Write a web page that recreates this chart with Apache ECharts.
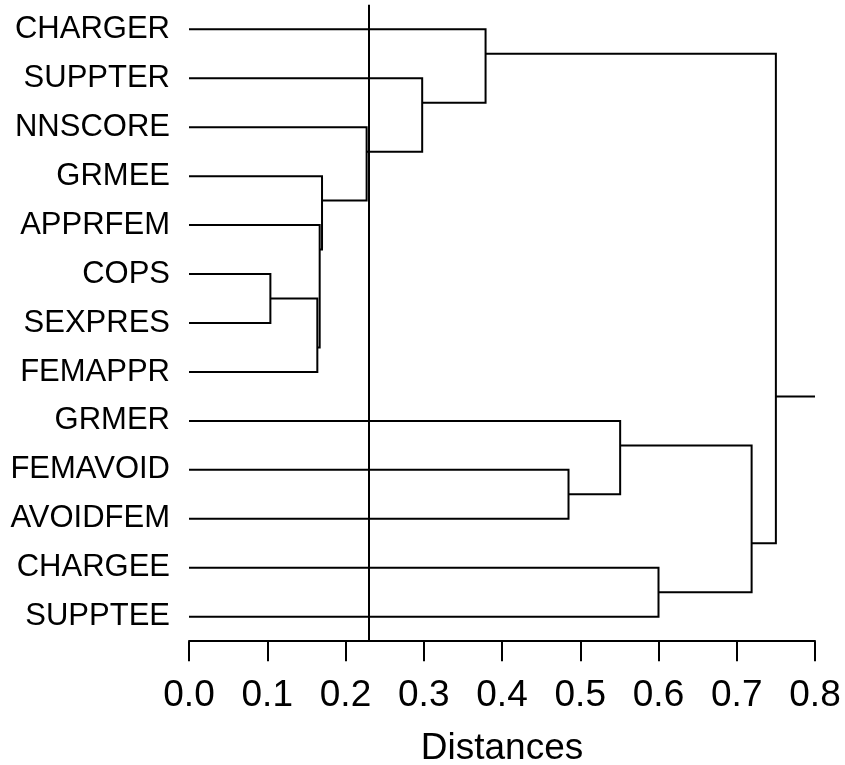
<!DOCTYPE html>
<html>
<head>
<meta charset="utf-8">
<script src="https://cdn.jsdelivr.net/npm/echarts@6/dist/echarts.min.js"></script>
<style>
  html, body { margin: 0; padding: 0; background: #fff; }
  #chart { width: 845px; height: 765px; }
</style>
</head>
<body>
<div id="chart"></div>
<script>
  // leaves, top to bottom
  var leaves = ['CHARGER', 'SUPPTER', 'NNSCORE', 'GRMEE', 'APPRFEM', 'COPS', 'SEXPRES',
                'FEMAPPR', 'GRMER', 'FEMAVOID', 'AVOIDFEM', 'CHARGEE', 'SUPPTEE'];
  // joins: [upper child, lower child]; ids >= leaves.length are earlier joins
  var merges = [[5, 6], [13, 7], [4, 14], [3, 15], [2, 16], [1, 17], [0, 18],
                [9, 10], [8, 20], [11, 12], [21, 22], [19, 23]];
  var heights = [0.104, 0.164, 0.167, 0.17, 0.227, 0.298, 0.379, 0.485, 0.551, 0.6, 0.719, 0.75];
  var cutDistance = 0.226;
  var axisMax = 0.8;

  var n = leaves.length;
  var firstLeaf = [], lastLeaf = [], nodeY = [], nodeX = [];
  for (var i = 0; i < n; i++) {
    firstLeaf[i] = i; lastLeaf[i] = i; nodeY[i] = i; nodeX[i] = 0;
  }
  var links = [];
  merges.forEach(function (m, k) {
    var id = n + k, a = m[0], b = m[1];
    firstLeaf[id] = firstLeaf[a];
    lastLeaf[id] = lastLeaf[b];
    // branch leaves at the boundary between the two groups
    nodeY[id] = lastLeaf[a] + 0.5;
    nodeX[id] = heights[k];
    links.push([heights[k], nodeY[a], nodeY[b], nodeX[a], nodeX[b], k === merges.length - 1 ? 1 : 0, nodeY[id]]);
  });

  var chart = echarts.init(document.getElementById('chart'));
  chart.setOption({
    backgroundColor: '#fff',
    animation: false,
    grid: { left: 189, right: 30, top: 4.8, bottom: 123.8, containLabel: false, outerBoundsMode: 'none' },
    xAxis: {
      type: 'value',
      min: 0,
      max: axisMax,
      interval: 0.1,
      axisLine: { show: true, onZero: false, lineStyle: { color: '#000', width: 2 } },
      axisTick: { show: true, length: 20, lineStyle: { color: '#000', width: 2 } },
      splitLine: { show: false },
      axisLabel: {
        color: '#000',
        fontSize: 37,
        fontFamily: 'Liberation Sans',
        margin: 36,
        showMinLabel: true,
        showMaxLabel: true,
        formatter: function (v) { return v.toFixed(1); }
      },
      name: 'Distances',
      nameLocation: 'middle',
      nameGap: 89,
      nameTextStyle: { color: '#000', fontSize: 37, fontFamily: 'Liberation Sans' }
    },
    yAxis: [
      {
        type: 'category',
        data: leaves,
        inverse: true,
        axisLine: { show: false },
        axisTick: { show: false },
        splitLine: { show: false },
        axisLabel: { color: '#000', fontSize: 31, fontFamily: 'Liberation Sans', margin: 19 }
      },
      {
        type: 'value',
        inverse: true,
        min: -0.5,
        max: n - 0.5,
        show: false
      }
    ],
    series: [{
      type: 'custom',
      yAxisIndex: 1,
      data: links,
      renderItem: function (params, api) {
        var h = api.value(0), yTop = api.value(1), yBot = api.value(2);
        var xTop = api.value(3), xBot = api.value(4);
        var children = [{
          type: 'polyline',
          shape: { points: [api.coord([xTop, yTop]), api.coord([h, yTop]), api.coord([h, yBot]), api.coord([xBot, yBot])] },
          style: { stroke: '#000', lineWidth: 2, fill: null }
        }];
        if (api.value(5)) {
          var yr = api.value(6);
          var p1 = api.coord([h, yr]), p2 = api.coord([axisMax, yr]);
          children.push({
            type: 'line',
            shape: { x1: p1[0], y1: p1[1], x2: p2[0], y2: p2[1] },
            style: { stroke: '#000', lineWidth: 2 }
          });
        }
        return { type: 'group', children: children };
      },
      markLine: {
        silent: true,
        symbol: 'none',
        label: { show: false },
        lineStyle: { color: '#000', width: 2, type: 'solid' },
        data: [{ xAxis: cutDistance }]
      }
    }]
  });
</script>
</body>
</html>
